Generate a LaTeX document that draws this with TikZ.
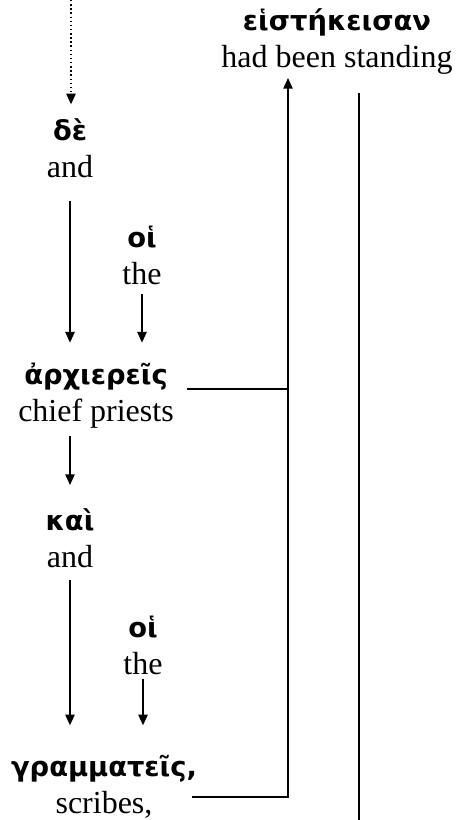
\documentclass[tikz,border=0pt]{standalone}
\usepackage{fontspec}
\setmainfont{Liberation Serif}
\newfontfamily\gkfont{DejaVu Sans}
\usetikzlibrary{arrows.meta}

\newcommand{\gk}[1]{{\gkfont\bfseries\fontsize{20.5}{27}\selectfont #1}}

\begin{document}
\begin{tikzpicture}[x=0.75pt,y=-0.75pt,
    word/.style={align=center, font=\fontsize{24}{27.75}\selectfont, inner sep=3pt},
    >={Triangle[length=8pt,width=7pt]}, line width=1.1pt]

      \useasboundingbox (0,0) rectangle (458,820);

      % Word nodes
      \node[word] (verb) at (337,42) {\gk{εἱστήκεισαν}\\had been standing};
      \node[word] (de) at (70,148) {\gk{δὲ}\\and};
      \node[word] (art1) at (142,255) {\gk{οἱ}\\the};
      \node[word] (arch) at (96,396) {\gk{ἀρχιερεῖς}\\chief priests};
      \node[word] (kai) at (70,538) {\gk{καὶ}\\and};
      \node[word] (art2) at (143,645) {\gk{οἱ}\\the};
      \node[word] (gram) at (104,787) {\gk{γραμματεῖς,}\\scribes,};

      % Free ends
      \coordinate (top) at (71,0);
      \coordinate (joint) at (288,78);
      \coordinate (divtop) at (359,93);
      \coordinate (divbot) at (359,820);

      % Arrows
      \draw[->, dotted, shorten >=7pt] (top) -- (top |- de.north);
      \draw[->, shorten <=14pt, shorten >=12pt] (de.south) -- (de.south |- arch.north);
      \draw[->, shorten <=4pt, shorten >=12pt] (art1.south) -- (art1.south |- arch.north);
      \draw[->, shorten <=2pt, shorten >=14pt] (kai.north |- arch.south) -- (kai.north);
      \draw[->, shorten <=6pt, shorten >=19pt] (kai.south) -- (kai.south |- gram.north);
      \draw[->, shorten >=19pt] (art2.south) -- (art2.south |- gram.north);

      % Subject to verb
      \draw ([shift={(9,-7)}]arch.east) -- ([shift={(0,-7)}]arch.east -| joint);
      \draw[->] ([shift={(-10,10)}]gram.east) -| (joint);
      \draw (divtop) -- (divbot);
    \end{tikzpicture}
\end{document}
